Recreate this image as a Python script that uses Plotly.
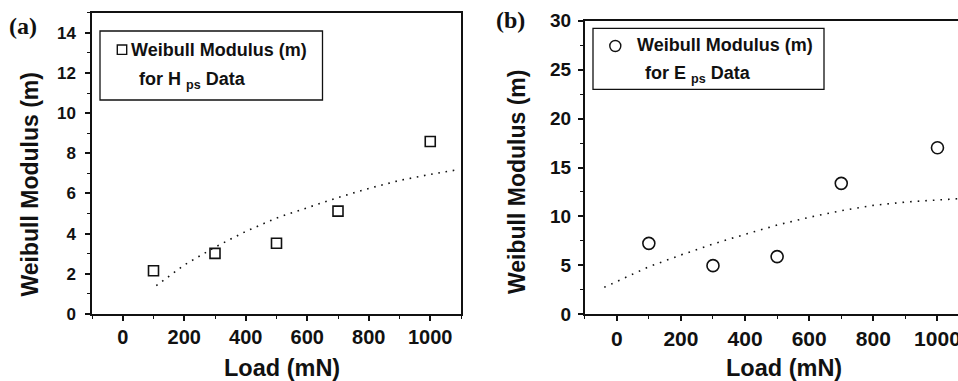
import plotly.graph_objects as go

W, H = 958, 381

# ---------------- data ----------------
load_a = [100, 300, 500, 700, 1000]
m_hps = [2.15, 3.02, 3.52, 5.12, 8.59]

fit_a_x = [109, 200, 300, 400, 500, 600, 700, 800, 900, 1000, 1081]
fit_a_y = [1.41, 2.44, 3.33, 4.11, 4.78, 5.29, 5.80, 6.25, 6.65, 6.95, 7.16]

load_b = [100, 300, 500, 700, 1000]
m_eps = [7.25, 4.97, 5.89, 13.38, 17.02]

fit_b_x = [-39, 100, 200, 300, 400, 500, 600, 700, 800, 900, 1000, 1064]
fit_b_y = [2.76, 4.86, 6.06, 7.18, 8.17, 9.12, 9.91, 10.59, 11.13, 11.47, 11.68, 11.81]

x_ticks = [0, 200, 400, 600, 800, 1000]
y_ticks_a = [0, 2, 4, 6, 8, 10, 12, 14]
y_ticks_b = [0, 5, 10, 15, 20, 25, 30]

# ---------------- helpers ----------------
def px(x):
    return x / W

def py(y):
    return 1 - y / H

SANS = "Liberation Sans, Arial, sans-serif"
SERIF = "Liberation Serif, Times New Roman, serif"
INK = "#111111"

fig = go.Figure()

fig.add_trace(go.Scatter(x=fit_a_x, y=fit_a_y, mode="lines", xaxis="x", yaxis="y",
                         line=dict(color=INK, width=1.6, dash="1.6px,5.7px"),
                         showlegend=False, hoverinfo="skip"))
fig.add_trace(go.Scatter(x=load_a, y=m_hps, mode="markers", xaxis="x", yaxis="y",
                         marker=dict(symbol="square-open", size=10, color=INK,
                                     line=dict(width=1.6, color=INK)),
                         showlegend=False))
fig.add_trace(go.Scatter(x=fit_b_x, y=fit_b_y, mode="lines", xaxis="x2", yaxis="y2",
                         line=dict(color=INK, width=1.6, dash="1.6px,6px"),
                         showlegend=False, hoverinfo="skip"))
fig.add_trace(go.Scatter(x=load_b, y=m_eps, mode="markers", xaxis="x2", yaxis="y2",
                         marker=dict(symbol="circle-open", size=12, color=INK,
                                     line=dict(width=1.6, color=INK)),
                         showlegend=False))

axis_common = dict(showgrid=False, zeroline=False, ticks="outside", ticklen=5,
                   tickwidth=1.5, tickcolor=INK, showline=True, linecolor=INK,
                   linewidth=1.5, ticklabeloverflow="allow", automargin=False)

fig.update_layout(
    template="none",
    width=W, height=H,
    margin=dict(l=0, r=0, t=0, b=0, pad=0, autoexpand=False),
    paper_bgcolor="white", plot_bgcolor="white",
    showlegend=False,
    font=dict(family=SANS, color=INK),
    xaxis=dict(axis_common, domain=[px(92), px(461)], range=[-100, 1100],
               tickvals=x_ticks, mirror=True, anchor="y",
               tickfont=dict(size=20, family=SANS, weight="bold", color=INK),
               ticklabelstandoff=-1,
               minor=dict(dtick=100, tick0=0, ticks="outside", ticklen=3,
                          tickwidth=1.3, tickcolor=INK)),
    yaxis=dict(axis_common, domain=[py(314), py(12.7)], range=[0, 15],
               tickvals=y_ticks_a, mirror=True, anchor="x",
               tickfont=dict(size=17, family=SANS, weight="bold", color=INK),
               ticklabelstandoff=6,
               minor=dict(dtick=1, tick0=0, ticks="outside", ticklen=3,
                          tickwidth=1.3, tickcolor=INK)),
    xaxis2=dict(axis_common, domain=[px(584.7), 1.0], range=[-100, 1064],
                tickvals=x_ticks, mirror=True, anchor="y2",
                tickfont=dict(size=21, family=SANS, weight="bold", color=INK),
                ticklabelstandoff=0,
                minor=dict(dtick=100, tick0=0, ticks="outside", ticklen=3,
                           tickwidth=1.3, tickcolor=INK)),
    yaxis2=dict(axis_common, domain=[py(314.3), py(20.7)], range=[0, 30],
                tickvals=y_ticks_b, mirror=False, anchor="x2",
                tickfont=dict(size=19, family=SANS, weight="bold", color=INK),
                ticklabelstandoff=3,
                minor=dict(dtick=2.5, tick0=0, ticks="outside", ticklen=3,
                           tickwidth=1.3, tickcolor=INK)),
)

ann = []
def add_text(text, x, y, size, family=SANS, xanchor="center", yanchor="middle", angle=0):
    ann.append(dict(text=text, x=px(x), y=py(y), xref="paper", yref="paper",
                    xanchor=xanchor, yanchor=yanchor, showarrow=False,
                    textangle=angle,
                    font=dict(size=size, family=family, color=INK, weight="bold")))

# axis titles
add_text("Load (mN)", 282, 368, 23.5)
add_text("Load (mN)", 784, 368, 23.5)
add_text("Weibull Modulus (m)", 29, 184.5, 23, angle=-90)
add_text("Weibull Modulus (m)", 517, 182, 23, angle=-90)
# panel labels
add_text("(a)", 23, 26, 24, family=SERIF)
add_text("(b)", 511, 20, 24, family=SERIF)
# legend texts
add_text("Weibull Modulus (m)", 129, 50, 18, xanchor="left")
add_text("for H <sub>ps</sub> Data", 136.5, 80, 18, xanchor="left")
add_text("Weibull Modulus (m)", 635, 45, 18, xanchor="left")
add_text("for E <sub>ps</sub> Data", 642.5, 74, 18, xanchor="left")

fig.update_layout(annotations=ann)

shapes = []
def rect(x0, y0, x1, y1, width=1.3, kind="rect"):
    shapes.append(dict(type=kind, xref="paper", yref="paper",
                       x0=px(x0), x1=px(x1), y0=py(y1), y1=py(y0),
                       line=dict(color=INK, width=width), fillcolor="rgba(0,0,0,0)"))

rect(100, 31, 322.5, 100)
rect(593, 28.3, 824, 89.3)
rect(117.3, 45, 126.7, 54.4, width=1.4)
rect(609.8, 40.5, 620.8, 51.5, width=1.4, kind="circle")
fig.update_layout(shapes=shapes)

fig.write_html("out.html",
               config={"displayModeBar": False},
               post_script="document.body.style.margin='0';document.body.style.overflow='hidden';")
